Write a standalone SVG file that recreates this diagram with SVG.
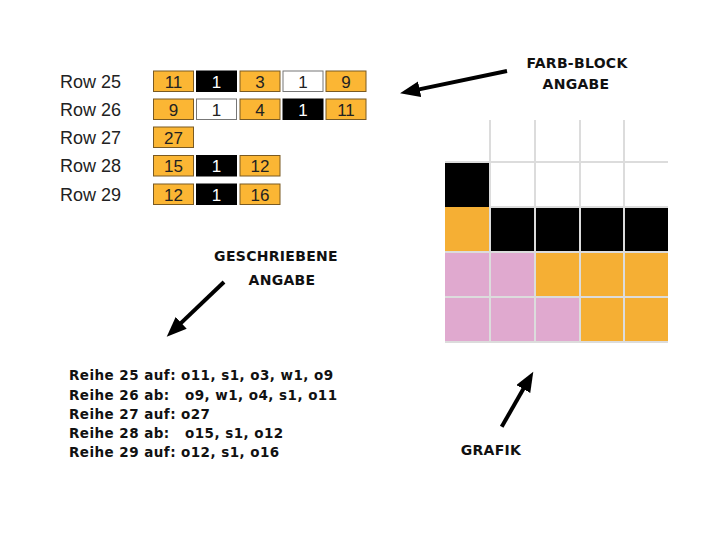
<svg xmlns="http://www.w3.org/2000/svg" width="720" height="540" viewBox="0 0 720 540">
<style>
.lbl{font-family:"Liberation Sans",Arial,sans-serif;font-size:18px;fill:#222}
.num{font-family:"Liberation Sans",Arial,sans-serif;font-size:17px;text-anchor:middle;fill:#222}
.numw{font-family:"Liberation Sans",Arial,sans-serif;font-size:17px;text-anchor:middle;fill:#fff}
.o{fill:#FBB634;stroke:#7a5a22;stroke-width:1}
.k{fill:#000;stroke:#000;stroke-width:1}
.w{fill:#fff;stroke:#777;stroke-width:1}
.cap{font-family:"DejaVu Sans",Verdana,sans-serif;font-weight:bold;font-size:14px;fill:#111;text-anchor:middle;letter-spacing:0.3px}
.wr{font-family:"DejaVu Sans",Verdana,sans-serif;font-weight:bold;font-size:13.5px;fill:#111;letter-spacing:0.45px}
.arr{stroke:#000;stroke-width:4;fill:none;marker-end:url(#ah)}
.gl{stroke:#dcdcdc;stroke-width:2}
.go{fill:#F5AF34}
.gp{fill:#E0A9CF}
</style>
<defs>
<marker id="ah" markerUnits="userSpaceOnUse" markerWidth="22" markerHeight="18" refX="8" refY="8" orient="auto">
<path d="M0,0 L20,8 L0,16 Z" fill="#000"/>
</marker>
</defs>
<rect width="720" height="540" fill="#fff"/>

<g id="blocks">
<g id="row25">
<text class="lbl" x="60" y="88">Row 25</text>
<rect class="o" x="153.5" y="71" width="40" height="20.5"/><text class="num" x="173.5" y="87.5">11</text>
<rect class="k" x="196.5" y="71" width="40" height="20.5"/><text class="numw" x="216.5" y="87.5">1</text>
<rect class="o" x="240" y="71" width="40" height="20.5"/><text class="num" x="260" y="87.5">3</text>
<rect class="w" x="283" y="71" width="40" height="20.5"/><text class="num" x="303" y="87.5">1</text>
<rect class="o" x="326" y="71" width="40" height="20.5"/><text class="num" x="346" y="87.5">9</text>
</g>
<g id="row26">
<text class="lbl" x="60" y="116">Row 26</text>
<rect class="o" x="153.5" y="99" width="40" height="20.5"/><text class="num" x="173.5" y="115.5">9</text>
<rect class="w" x="196.5" y="99" width="40" height="20.5"/><text class="num" x="216.5" y="115.5">1</text>
<rect class="o" x="240" y="99" width="40" height="20.5"/><text class="num" x="260" y="115.5">4</text>
<rect class="k" x="283" y="99" width="40" height="20.5"/><text class="numw" x="303" y="115.5">1</text>
<rect class="o" x="326" y="99" width="40" height="20.5"/><text class="num" x="346" y="115.5">11</text>
</g>
<g id="row27">
<text class="lbl" x="60" y="144">Row 27</text>
<rect class="o" x="153.5" y="127" width="40" height="20.5"/><text class="num" x="173.5" y="143.5">27</text>
</g>
<g id="row28">
<text class="lbl" x="60" y="172">Row 28</text>
<rect class="o" x="153.5" y="155.5" width="40" height="20.5"/><text class="num" x="173.5" y="172">15</text>
<rect class="k" x="196.5" y="155.5" width="40" height="20.5"/><text class="numw" x="216.5" y="172">1</text>
<rect class="o" x="240" y="155.5" width="40" height="20.5"/><text class="num" x="260" y="172">12</text>
</g>
<g id="row29">
<text class="lbl" x="60" y="201">Row 29</text>
<rect class="o" x="153.5" y="184" width="40" height="20.5"/><text class="num" x="173.5" y="200.5">12</text>
<rect class="k" x="196.5" y="184" width="40" height="20.5"/><text class="numw" x="216.5" y="200.5">1</text>
<rect class="o" x="240" y="184" width="40" height="20.5"/><text class="num" x="260" y="200.5">16</text>
</g>
</g>

<g id="grafik">
<rect x="445" y="162" width="45" height="45" fill="#000"/>
<rect class="go" x="445" y="207" width="45" height="45"/>
<rect x="490" y="207" width="178" height="45" fill="#000"/>
<rect class="gp" x="445" y="252" width="90" height="45"/>
<rect class="go" x="535" y="252" width="133" height="45"/>
<rect class="gp" x="445" y="297" width="135" height="45"/>
<rect class="go" x="580" y="297" width="88" height="45"/>
<line class="gl" x1="490" y1="120" x2="490" y2="342"/>
<line class="gl" x1="535" y1="120" x2="535" y2="342"/>
<line class="gl" x1="580" y1="120" x2="580" y2="342"/>
<line class="gl" x1="624" y1="120" x2="624" y2="342"/>
<line class="gl" x1="445" y1="162" x2="668" y2="162"/>
<line class="gl" x1="490" y1="207" x2="668" y2="207"/>
<line class="gl" x1="445" y1="252" x2="668" y2="252"/>
<line class="gl" x1="445" y1="297" x2="668" y2="297"/>
<line class="gl" x1="445" y1="342" x2="668" y2="342"/>
</g>

<g id="captions">
<text class="cap" x="577" y="68">FARB-BLOCK</text>
<text class="cap" x="576" y="89">ANGABE</text>
<text class="cap" x="276" y="261">GESCHRIEBENE</text>
<text class="cap" x="282" y="285">ANGABE</text>
<text class="cap" x="491" y="455">GRAFIK</text>
</g>

<g id="written">
<text class="wr" y="380"><tspan x="69">Reihe 25 auf:</tspan><tspan x="181">o11, s1, o3, w1, o9</tspan></text>
<text class="wr" y="399.5"><tspan x="69">Reihe 26 ab:</tspan><tspan x="185">o9, w1, o4, s1, o11</tspan></text>
<text class="wr" y="418.5"><tspan x="69">Reihe 27 auf:</tspan><tspan x="181">o27</tspan></text>
<text class="wr" y="437.5"><tspan x="69">Reihe 28 ab:</tspan><tspan x="185">o15, s1, o12</tspan></text>
<text class="wr" y="457"><tspan x="69">Reihe 29 auf:</tspan><tspan x="181">o12, s1, o16</tspan></text>
</g>

<g id="connectors">
<line class="arr" x1="507" y1="71" x2="411.8" y2="90.9"/>
<line class="arr" x1="224" y1="282" x2="175.4" y2="328.4"/>
<line class="arr" x1="501.7" y1="426.7" x2="527.3" y2="382.1"/>
</g>
</svg>
